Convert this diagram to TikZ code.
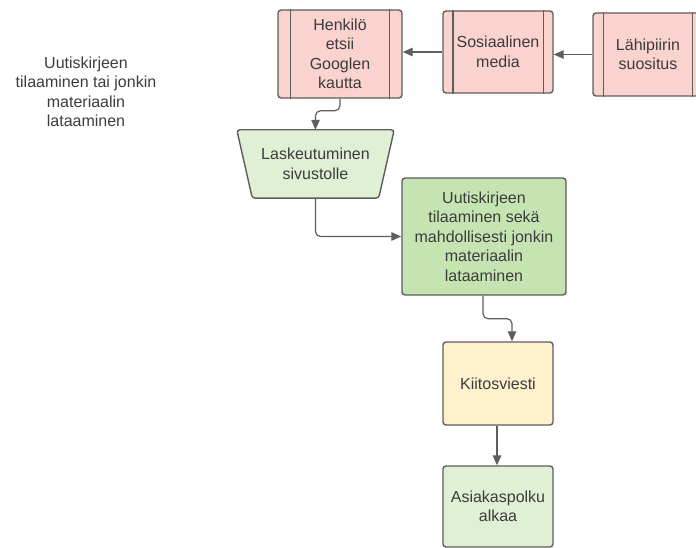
\documentclass[tikz,border=0pt]{standalone}
\usepackage{fontspec}
\setmainfont{Liberation Sans}
\usetikzlibrary{arrows.meta,calc}
\definecolor{edge}{HTML}{5E5E5E}
\definecolor{ink}{HTML}{3C3C3C}
\definecolor{pinkfill}{HTML}{FAD2CE}
\definecolor{greenlight}{HTML}{DFF0D5}
\definecolor{greendeep}{HTML}{C6E3B2}
\definecolor{yellowfill}{HTML}{FFF1CC}
\tikzset{
  box/.style={draw=edge, line width=1.4pt, rounded corners=3pt, align=center,
    text=ink, inner sep=2pt, font=\fontsize{16}{19.5}\selectfont},
  procbox/.style={box, fill=pinkfill},
  textonly/.style={align=center, text=ink, font=\fontsize{16}{19.5}\selectfont},
  link/.style={draw=edge, line width=1.2pt, rounded corners=5pt,
    -{Triangle[length=10pt,width=8.5pt]}},
  sideline/.style={draw=edge, line width=1.4pt}
}
% draws the two inner vertical rules of a predefined-process box
\newcommand{\procrules}[2]{%
  \draw[sideline] ([xshift=#2]#1.north west) -- ([xshift=#2]#1.south west);
  \draw[sideline] ([xshift=-#2]#1.north east) -- ([xshift=-#2]#1.south east);}
\begin{document}
\begin{tikzpicture}[x=1pt,y=-1pt]
\useasboundingbox (0,0) rectangle (696,548);
\begin{scope}
\clip (0,0) rectangle (696,548);

% left caption
\node[textonly] (caption) at (86,92) {Uutiskirjeen\\tilaaminen tai jonkin\\materiaalin\\lataaminen};

% top row of sources
\node[procbox, minimum width=124pt, minimum height=88pt] (henk) at (340,54)
  {Henkilö\\etsii\\Googlen\\kautta};
\procrules{henk}{13pt}
\node[procbox, minimum width=110pt, minimum height=82pt] (some) at (498,52)
  {Sosiaalinen\\media};
\procrules{some}{10.5pt}
\node[procbox, minimum width=110pt, minimum height=83pt] (lahi) at (648,54.5)
  {Lähipiirin\\suositus};
\procrules{lahi}{11pt}

% landing page (inverted trapezoid)
\node[minimum width=157pt, minimum height=68pt, inner sep=0pt] (trap) at (315.5,164) {};
\fill[greenlight, draw=edge, line width=1.4pt, rounded corners=3pt]
  (trap.north west) -- (trap.north east) -- ($(trap.south east)+(-15.5,0)$)
  -- ($(trap.south west)+(15.5,0)$) -- cycle;
\node[textonly] (traplabel) at (trap.center) {Laskeutuminen\\sivustolle};

% subscription step
\node[box, fill=greendeep, minimum width=164pt, minimum height=117pt] (big) at (484,236.5)
  {Uutiskirjeen\\tilaaminen sekä\\mahdollisesti jonkin\\materiaalin\\lataaminen};

% thank-you message and start of the journey
\node[box, fill=yellowfill, minimum width=110pt, minimum height=83pt] (kiit) at (498,383.5)
  {Kiitosviesti};
\node[box, fill=greenlight, minimum width=110pt, minimum height=81pt] (asia) at (498,506.5)
  {Asiakaspolku\\alkaa};

% connectors
\draw[link] (some.west) -- (some.west -| henk.east);
\draw[link] (lahi.west) -- (lahi.west -| some.east);
\draw[link] (henk.south) -- ++(0,12) -| (trap.north);
\draw[link] (trap.south) |- (big.west);
\draw[link] ([xshift=-1pt]big.south) -- ++(0,23) -| ([xshift=14pt]kiit.north);
\draw[link] ([xshift=-1pt]kiit.south) -- ([xshift=-1pt]asia.north);
\end{scope}
\end{tikzpicture}
\end{document}
